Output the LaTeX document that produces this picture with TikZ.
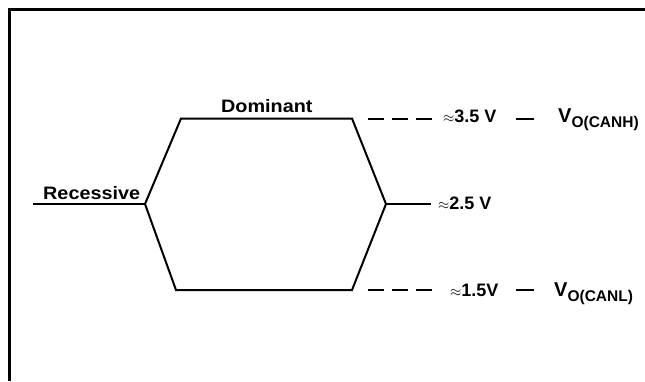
\documentclass[tikz,border=0pt]{standalone}
\usepackage{fontspec}
\setmainfont{Liberation Sans}
\usepackage{graphicx}
\begin{document}
\begin{tikzpicture}[x=1pt,y=-1pt,
  wave/.style={line width=2pt,line join=miter},
  level/.style={line width=2pt,dash pattern=on 16pt off 8pt},
  lbl/.style={inner sep=0pt,anchor=base west,font=\fontsize{18}{18}\selectfont\bfseries},
  frame/.style={line width=3pt}]
\useasboundingbox (0,0) rectangle (645,381);
% outer frame (top and left edges)
\draw[frame] (645,9.5) -- (9.5,9.5) -- (9.5,381);
% bus waveform corner points
\coordinate (rin) at (33,204);
\coordinate (L) at (145,204);
\coordinate (TL) at (181,118.5);
\coordinate (TR) at (352,118.5);
\coordinate (R) at (386,204);
\coordinate (rout) at (431,204);
\coordinate (BR) at (352,290);
\coordinate (BL) at (176,290);
\draw[wave] (rin) -- (L);
\draw[wave] (L) -- (TL) -- (TR) -- (R) -- (BR) -- (BL) -- cycle;
\draw[wave] (R) -- (rout);
% level markers
\coordinate (hA) at (368,118.5); \coordinate (hB) at (432,118.5);
\coordinate (hC) at (516,118.5); \coordinate (hD) at (534,118.5);
\coordinate (lA) at (368,290); \coordinate (lB) at (432,290);
\coordinate (lC) at (516,290); \coordinate (lD) at (534,290);
\draw[level] (hA) -- (hB);
\draw[line width=2pt] (hC) -- (hD);
\draw[level] (lA) -- (lB);
\draw[line width=2pt] (lC) -- (lD);
% labels
\node[lbl] (dom) at (221,112.7) {\scalebox{1.1}[1]{Dominant}};
\node[lbl] (rec) at (43,199.3) {\scalebox{1.1}[1]{Recessive}};
\node[lbl] (v35) at (443,122.5) {{\fontsize{14}{14}\selectfont$\approx$}3.5 V};
\node[lbl] (v25) at (438,209) {{\fontsize{14}{14}\selectfont$\approx$}2.5 V};
\node[lbl] (v15) at (450,296) {{\fontsize{14}{14}\selectfont$\approx$}1.5V};
\node[lbl] (canh) at (558,122.5) {\fontsize{20}{20}\selectfont V\raisebox{-5pt}{\fontsize{15.5}{15.5}\selectfont O(CANH)}};
\node[lbl] (canl) at (554,296) {\fontsize{20}{20}\selectfont V\raisebox{-5pt}{\fontsize{15.5}{15.5}\selectfont O(CANL)}};
\end{tikzpicture}
\end{document}
